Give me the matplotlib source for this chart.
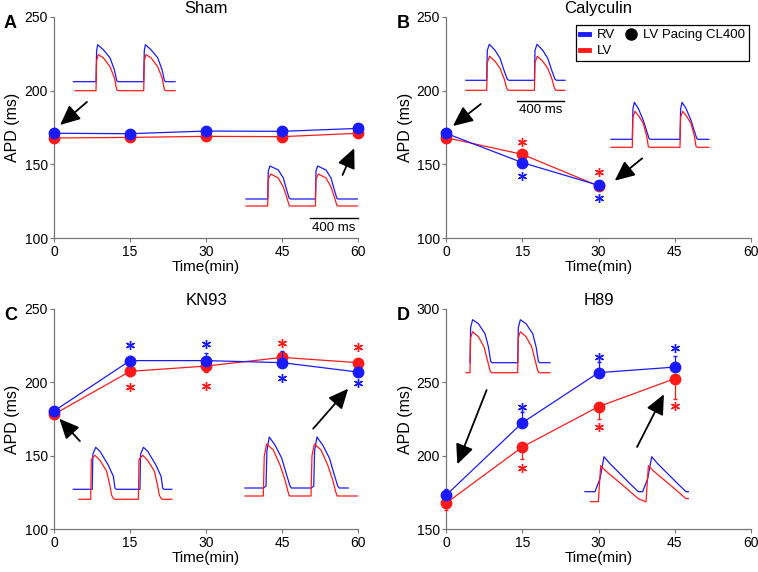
import numpy as np
import matplotlib.pyplot as plt
from matplotlib.lines import Line2D

plt.rcParams['font.family'] = ['Liberation Sans', 'DejaVu Sans']

W, H = 758, 572
BLUE = '#1a1aff'
RED = '#ff1a1a'

time_min = [0, 15, 30, 45, 60]

# mean APD (ms) and SEM, RV = blue, LV = red
sham_rv = [171.1, 170.8, 172.6, 172.4, 174.4]
sham_lv = [167.9, 168.3, 169.0, 168.8, 171.1]
sham_rv_err = [1, 1, 3, 1, 2.5]
sham_lv_err = [1, 1, 2.5, 1, 2]

caly_rv = [171.0, 151.2, 135.9]
caly_lv = [168.1, 156.8, 135.4]
caly_rv_err = [0.5, 0.5, 0.5]
caly_lv_err = [0.5, 0.5, 0.5]

kn93_rv = [180.4, 214.7, 214.7, 213.3, 206.9]
kn93_lv = [178.2, 207.4, 211.0, 216.9, 213.3]
kn93_rv_err = [2.5, 3, 5.5, 8, 1]
kn93_lv_err = [1, 3, 4, 2, 1]

h89_rv = [173.3, 222.5, 256.5, 260.3]
h89_lv = [167.9, 206.0, 233.4, 252.4]
h89_rv_err = [4, 7, 7, 7.5]
h89_lv_err = [5, 8.5, 8.6, 14]

# significance stars: (time, APD)
sham_stars_rv, sham_stars_lv = [], []
caly_stars_rv = [(15, 142.4), (30, 127.0)]
caly_stars_lv = [(15, 165.4), (30, 144.9)]
kn93_stars_rv = [(15, 225.0), (30, 225.8), (45, 203.1), (60, 199.3)]
kn93_stars_lv = [(15, 196.7), (30, 197.4), (45, 226.9), (60, 224.0)]
h89_stars_rv = [(15, 233.4), (30, 267.4), (45, 273.0)]
h89_stars_lv = [(15, 192.0), (30, 219.6), (45, 233.8)]

# arrows: (tail, head) in data units
sham_arrows = [((6.5, 192.3), (1.2, 176.7)), ((56.9, 142.9), (59.2, 161.0))]
caly_arrows = [((6.8, 190.9), (1.3, 176.0)), ((38.6, 154.1), (33.2, 139.0))]
kn93_arrows = [((5.1, 160.0), (1.05, 175.2)), ((51.1, 168.4), (58.0, 195.6))]
h89_arrows = [((7.95, 244.7), (2.17, 194.2)), ((37.6, 206.0), (42.9, 241.8))]

# optical AP traces, one beat each: (ms from upstroke, a.u.); paced at CL 400 ms
CL = 400
a1_rv = [(0, 9), (5, 40), (14, 46), (61, 41), (117, 33), (154, 21), (174, 10), (185, 9)]
a1_lv = [(0, 0), (5, 30), (19, 36), (61, 33), (117, 24), (154, 13), (174, 1), (185, 0)]
a2_rv = [(0, 7), (5, 35), (19, 40), (89, 36), (131, 28), (159, 16), (179, 8), (190, 7)]
a2_lv = [(0, 0), (5, 27), (25, 32), (89, 28), (131, 19), (159, 9), (179, 1), (190, 0)]
b1_rv = [(0, 10), (5, 40), (22, 46), (70, 40), (112, 32), (148, 19), (173, 11), (185, 10)]
b1_lv = [(0, 0), (5, 28), (25, 34), (70, 29), (112, 22), (148, 11), (168, 2), (180, 0)]
b2_rv = [(0, 8), (5, 38), (17, 45), (50, 39), (92, 27), (121, 16), (140, 9), (150, 8)]
b2_lv = [(0, 0), (5, 30), (22, 36), (50, 32), (92, 24), (121, 11), (134, 1), (145, 0)]
c1_rv = [(0, 10), (13, 10), (18, 45), (42, 52), (78, 48), (148, 34), (190, 23), (204, 11), (215, 10)]
c1_lv = [(0, 0), (5, 40), (36, 44), (78, 39), (134, 28), (162, 13), (176, 4), (190, 1), (200, 0)]
c2_rv = [(0, 8), (23, 10), (30, 45), (50, 59), (98, 51), (154, 38), (196, 21), (224, 10), (235, 8)]
c2_lv = [(0, 0), (8, 40), (28, 52), (84, 46), (140, 31), (182, 16), (210, 3), (220, 0)]
d1_rv = [(0, 10), (5, 45), (22, 53), (70, 49), (126, 39), (154, 26), (174, 11), (185, 10)]
d1_lv = [(0, 0), (5, 35), (22, 41), (70, 36), (117, 26), (145, 13), (168, 2), (180, 0)]
d2_rv = [(-28, 10), (14, 23), (48, 45), (98, 38), (182, 28), (266, 18), (336, 10)]
d2_lv = [(0, 0), (20, 36), (60, 31), (200, 17), (336, 3), (395, 0)]

MS_PER_PX = CL / 47.7


def trace(beat, start, end):
    t = [start] + [p[0] for p in beat] + [p[0] + CL for p in beat]
    v = [beat[0][1]] + [p[1] for p in beat] * 2
    t, v = np.array(t, float), np.array(v, float)
    keep = t < end
    t = np.append(t[keep], end)
    v = np.append(v[keep], v[keep][-1])
    return t, v


def ap_inset(fig, up_x, base_y, rv, lv, rv_span, lv_span, bar=None):
    # up_x, base_y: pixel position of the first LV upstroke / LV baseline
    left, width, below, height = 30, 130, 8, 75
    ax = fig.add_axes([(up_x - left) / W, (H - base_y - below) / H, width / W, height / H])
    ax.set_xlim(-left * MS_PER_PX, (width - left) * MS_PER_PX)
    ax.set_ylim(-below, height - below)
    ax.axis('off')
    ax.plot(*trace(rv, *rv_span), color=BLUE, lw=0.9)
    ax.plot(*trace(lv, *lv_span), color=RED, lw=0.9)
    if bar is not None:
        t0, yb, ytxt = bar
        ax.plot([t0, t0 + CL], [yb, yb], color='k', lw=1, clip_on=False)
        ax.text(t0 + CL / 2, ytxt, '400 ms', ha='center', va='center', fontsize=9.5, clip_on=False)
    return ax


def panel(rect, letter, title, ylim, rv, lv, rv_err, lv_err, st_rv, st_lv, arrows):
    l, r, t, b = rect
    ax = fig.add_axes([l / W, (H - b) / H, (r - l) / W, (b - t) / H])
    x = time_min[:len(rv)]
    z = [0] * len(rv)
    ax.errorbar(x, lv, yerr=[lv_err, z], color=RED, marker='o', ms=7.5, lw=0.9,
                elinewidth=0.9, capsize=1.5, zorder=3)
    ax.errorbar(x, rv, yerr=[z, rv_err], color=BLUE, marker='o', ms=7.5, lw=0.9,
                elinewidth=0.9, capsize=1.5, zorder=4)
    for sx, sy in st_rv:
        ax.plot(sx, sy, marker=(6, 2, 0), color=BLUE, ms=6.5, mew=1.0, ls='none')
    for sx, sy in st_lv:
        ax.plot(sx, sy, marker=(6, 2, 0), color=RED, ms=6.5, mew=1.0, ls='none')
    for art in ax.lines + ax.collections:
        art.set_clip_on(False)
    for tail, head in arrows:
        ax.annotate('', xy=head, xytext=tail,
                    arrowprops=dict(arrowstyle='-|>,head_length=1.1,head_width=0.5',
                                    color='k', lw=1.3, mutation_scale=11, shrinkA=0, shrinkB=0))
    ax.set_xlim(0, 60)
    ax.set_ylim(*ylim)
    ax.set_xticks(time_min)
    ax.set_yticks(np.arange(ylim[0], ylim[1] + 1, 50))
    for s in ['top', 'right']:
        ax.spines[s].set_visible(False)
    for s in ['left', 'bottom']:
        ax.spines[s].set_color('#777777')
        ax.spines[s].set_linewidth(0.9)
    ax.tick_params(direction='out', length=3, width=0.8, color='#777777', labelsize=10, pad=1.5)
    ax.set_xlabel('Time(min)', fontsize=11, labelpad=1)
    ax.set_ylabel('APD (ms)', fontsize=11.5, labelpad=3)
    ax.set_title(title, fontsize=12, pad=3)
    fig.text((l - 50) / W, (H - t + 2) / H, letter, fontsize=13, fontweight='bold', va='top')
    ax.patch.set_alpha(0)
    return ax


fig = plt.figure(figsize=(W / 100, H / 100), dpi=100)

axA = panel((54, 358.3, 16.7, 238.3), 'A', 'Sham', (100, 250), sham_rv, sham_lv,
            sham_rv_err, sham_lv_err, sham_stars_rv, sham_stars_lv, sham_arrows)
axB = panel((446.3, 750.7, 16.7, 238.3), 'B', 'Calyculin', (100, 250), caly_rv, caly_lv,
            caly_rv_err, caly_lv_err, caly_stars_rv, caly_stars_lv, caly_arrows)
axC = panel((54, 358.3, 308.7, 529.3), 'C', 'KN93', (100, 250), kn93_rv, kn93_lv,
            kn93_rv_err, kn93_lv_err, kn93_stars_rv, kn93_stars_lv, kn93_arrows)
axD = panel((446.3, 750.7, 308.7, 529.3), 'D', 'H89', (150, 300), h89_rv, h89_lv,
            h89_rv_err, h89_lv_err, h89_stars_rv, h89_stars_lv, h89_arrows)

handles = [Line2D([], [], color=BLUE, lw=3.5),
           Line2D([], [], color=RED, lw=3.5),
           Line2D([], [], color='k', marker='o', ls='none', ms=8)]
leg = axB.legend(handles, ['RV', 'LV', 'LV Pacing CL400'], ncol=2, loc='upper right',
                 bbox_to_anchor=(749 / W, 1 - 25 / H), bbox_transform=fig.transFigure,
                 fontsize=9.5, handlelength=0.7, handletextpad=0.6, columnspacing=0.8,
                 borderaxespad=0, fancybox=False, framealpha=1, edgecolor='k',
                 labelspacing=0.3, borderpad=0.3)
leg.get_frame().set_linewidth(0.9)

ap_inset(fig, 96, 90.7, a1_rv, a1_lv, (-190, 663), (-176, 663))
ap_inset(fig, 267.7, 206, a2_rv, a2_lv, (-182, 752), (-182, 752), bar=(355, -11.7, -22))
ap_inset(fig, 486.7, 90.3, b1_rv, b1_lv, (-174, 657), (-174, 657), bar=(252, -11, -20))
ap_inset(fig, 632.3, 147.3, b2_rv, b2_lv, (-179, 643), (-179, 643))
ap_inset(fig, 90.7, 499.3, c1_rv, c1_lv, (-146, 680), (-98, 680))
ap_inset(fig, 263.3, 496, c2_rv, c2_lv, (-154, 713), (-154, 789))
ap_inset(fig, 470, 372.7, d1_rv, d1_lv, (0, 671), (-34, 671))
ap_inset(fig, 598.3, 501.7, d2_rv, d2_lv, (-112, 755), (-64, 755))

fig.savefig('out.png', dpi=100)
